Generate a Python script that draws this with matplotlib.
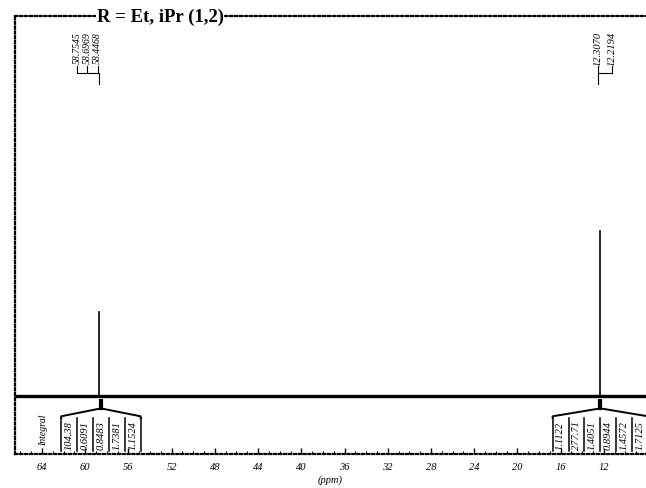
import numpy as np
import matplotlib.pyplot as plt
from matplotlib.ticker import MultipleLocator

# spectrum data (ppm, relative intensity)
peak_ppm = [58.75, 12.33]
peak_height = [0.51, 1.0]
peak_labels_left = ["58.7545", "58.6969", "58.4468"]
peak_labels_right = ["12.3070", "12.2194"]
integrals_left = ["104.38", "0.6091", "0.8483", "1.7381", "1.1524"]
integrals_right = ["1.1122", "277.71", "1.4051", "0.8944", "1.4572", "1.7125"]
tick_ppm = [64, 60, 56, 52, 48, 44, 40, 36, 32, 28, 24, 20, 16, 12]
title = "R = Et, iPr (1,2)"

serif = ["Liberation Serif", "DejaVu Serif"]
W, H = 646, 489

fig = plt.figure(figsize=(W / 100, H / 100), dpi=100)
# axes: left edge x=15, top y=17, bottom y=455 (pixels)
ax = fig.add_axes([15 / W, 1 - 455 / H, 1 - 15 / W, (455 - 17) / H])
ax.set_xlim(66.5, 8.1)
ax.set_ylim(-0.3515, 2.303)

for side in ["top", "left", "bottom"]:
    ax.spines[side].set_linestyle((0, (1, 1.2)))
    ax.spines[side].set_linewidth(1.6)
ax.spines["right"].set_visible(False)

# baseline + peaks
ax.plot([66.5, 8.1], [0, 0], color="black", lw=2.4, solid_capstyle="butt")
for p, h in zip(peak_ppm, peak_height):
    ax.plot([p, p], [0, h], color="black", lw=1.2)

# x axis
ax.xaxis.set_minor_locator(MultipleLocator(1))
ax.set_xticks(tick_ppm)
ax.set_xticklabels([str(t) for t in tick_ppm], fontstyle="italic",
                   family=serif, fontsize=7.5)
ax.tick_params(axis="x", which="major", length=4, width=1, direction="in", pad=6)
ax.tick_params(axis="x", which="minor", length=2, width=0.8, direction="in")
ax.set_yticks([])
ax.set_xlabel("(ppm)", fontstyle="italic", family=serif, fontsize=7.5, labelpad=2)

# title on top border
ax.text(0.23, 1.0, title, transform=ax.transAxes, ha="center", va="center",
        family=serif, fontweight="bold", fontsize=13.5,
        bbox=dict(facecolor="white", edgecolor="none", pad=0.3))

# integral region
ax.text(63.9, -0.20, "Integral", rotation=90, ha="center", va="center",
        family=serif, fontstyle="italic", fontsize=7)


def integral_group(center, labels, width=1.47):
    n = len(labels)
    left = center + width * n / 2
    bot, top, roof = -0.333, -0.133, -0.075
    edges = [left - width * i for i in range(n + 1)]
    for e in edges:
        ax.plot([e, e], [bot, top], color="black", lw=1.1)
    ax.plot([edges[0], edges[0], center, edges[-1], edges[-1]],
            [top, top + 0.01, roof, top + 0.01, top], color="black", lw=1.4)
    ax.plot([center, center], [roof, -0.03], color="black", lw=3)
    for i, lab in enumerate(labels):
        xc = edges[i] - width / 2
        ax.text(xc, (bot + top) / 2, lab, rotation=90, ha="center", va="center",
                family=serif, fontstyle="italic", fontsize=7.5)


integral_group(peak_ppm[0] - 0.2, integrals_left)
integral_group(peak_ppm[1], integrals_right)


# peak pick labels
def peak_labels(x0, labels, target, step, size):
    ytop, ybot, yjoin, yend = 2.21, 2.0, 1.96, 1.89
    xs = [x0 - i * step for i in range(len(labels))]
    for x, lab in zip(xs, labels):
        ax.text(x, ytop, lab, rotation=90, ha="center", va="top",
                family=serif, fontstyle="italic", fontsize=size)
        ax.plot([x, x], [ybot, yjoin], color="black", lw=0.8)
    ax.plot([xs[0], xs[-1]], [yjoin, yjoin], color="black", lw=0.8)
    ax.plot([target, target], [yjoin, yend], color="black", lw=0.8)


peak_labels(60.76, peak_labels_left, 58.75, 0.95, 7)
peak_labels(12.54, peak_labels_right, 12.54, 1.27, 7.5)

fig.savefig("out.png", dpi=100)
